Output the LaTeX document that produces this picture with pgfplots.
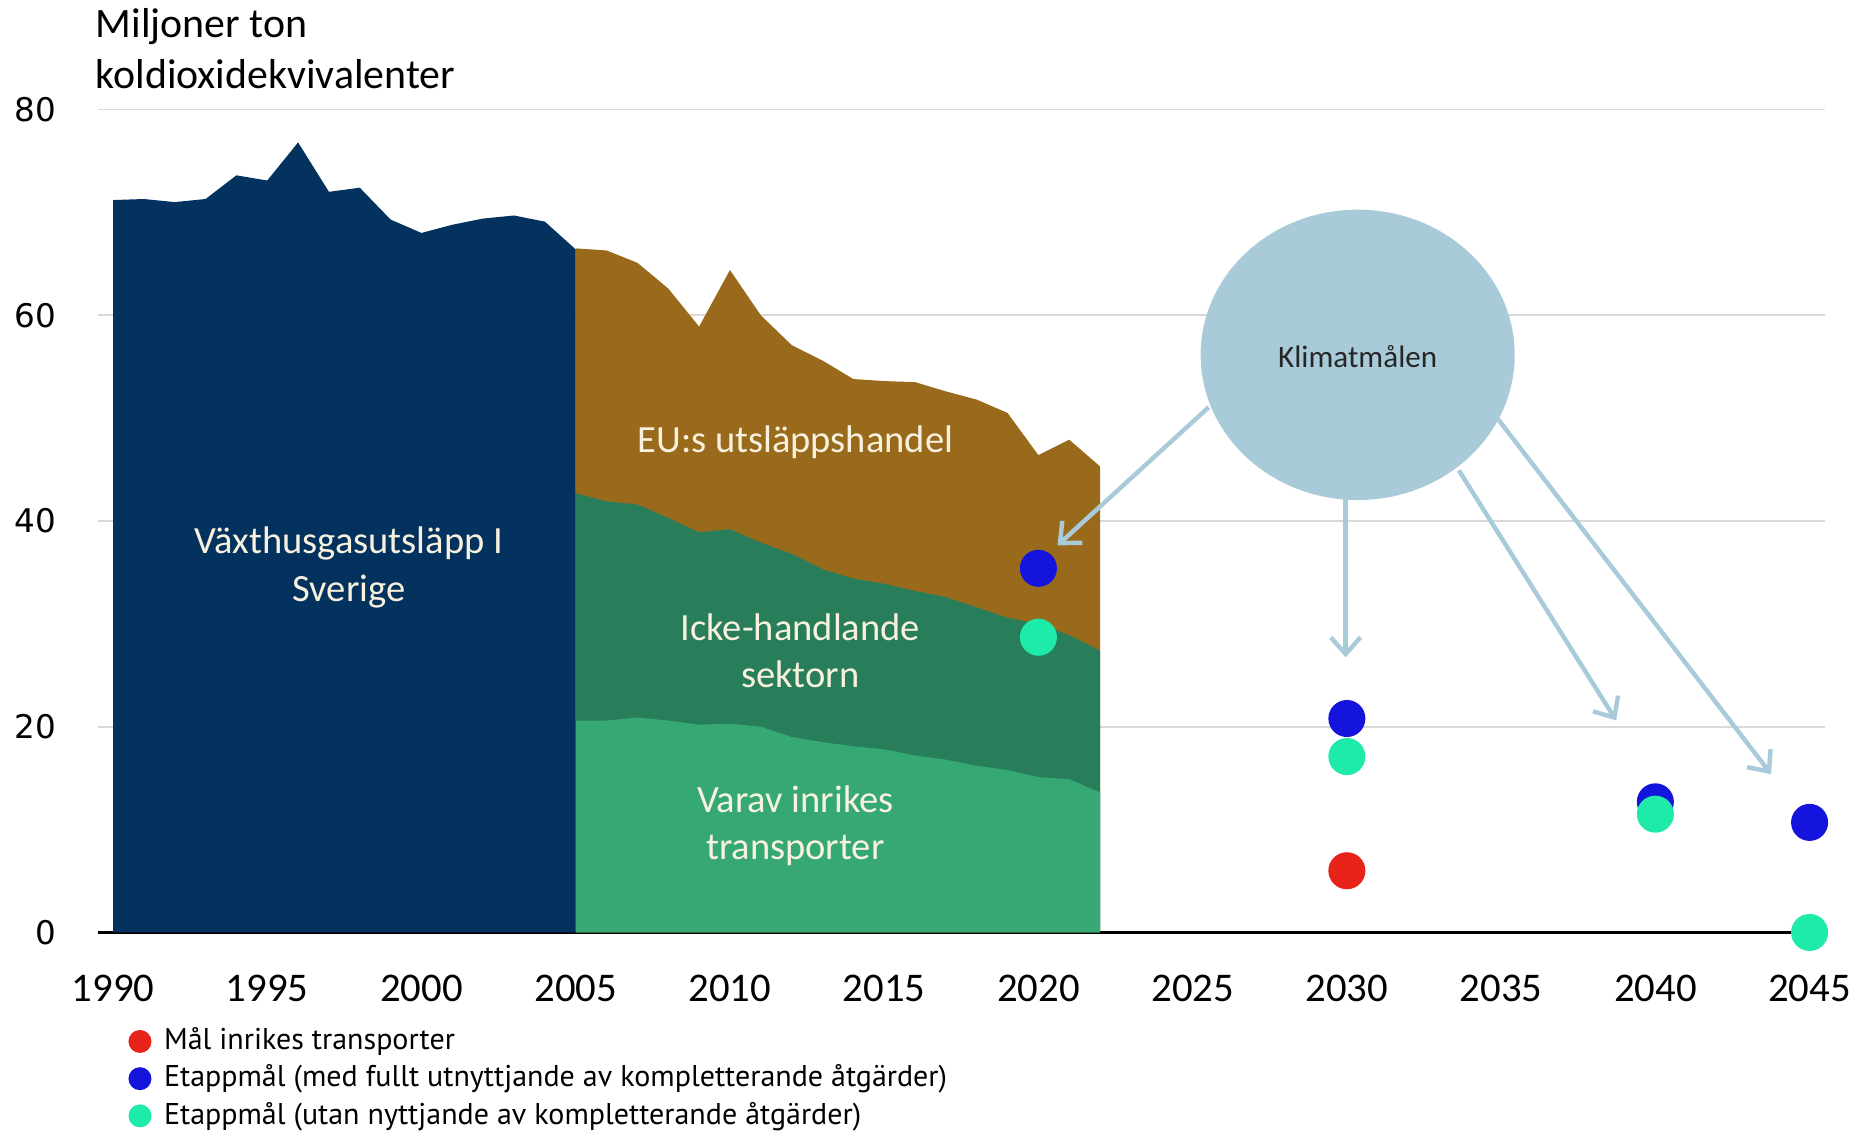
\documentclass[border=0pt]{standalone}
\usepackage{fontspec}
\setmainfont{Carlito}
\newfontfamily\dejavu{DejaVu Sans}
\newfontfamily\ptsans{PT Sans}
\usepackage{pgfplots}
\pgfplotsset{compat=1.18}
\usetikzlibrary{arrows.meta}

\definecolor{sverige}{HTML}{03325F}
\definecolor{handel}{HTML}{9A6A1C}
\definecolor{ickehandel}{HTML}{287D5A}
\definecolor{transport}{HTML}{36A874}
\definecolor{malred}{HTML}{E8231A}
\definecolor{malblue}{HTML}{1414DC}
\definecolor{malteal}{HTML}{1EEBAA}
\definecolor{klimat}{HTML}{A9CBD9}
\definecolor{labeltext}{HTML}{F8F1DE}

\pgfplotstableread{
year val
1990 71.2
1991 71.3
1992 71.0
1993 71.3
1994 73.6
1995 73.1
1996 76.8
1997 72.0
1998 72.4
1999 69.3
2000 68.0
2001 68.8
2002 69.4
2003 69.7
2004 69.1
2005 66.4
}\sverigedata

% stacked tops, 2005-2022: total, non-trading (incl. transport), transport
\pgfplotstableread{
year total icke transp
2005 66.5 42.7 20.6
2006 66.3 41.9 20.6
2007 65.1 41.6 20.9
2008 62.6 40.3 20.6
2009 58.9 38.9 20.2
2010 64.4 39.2 20.3
2011 60.0 37.9 20.0
2012 57.1 36.8 19.0
2013 55.6 35.3 18.5
2014 53.8 34.4 18.1
2015 53.6 33.9 17.8
2016 53.5 33.2 17.2
2017 52.6 32.6 16.8
2018 51.8 31.6 16.2
2019 50.5 30.6 15.8
2020 46.4 30.0 15.1
2021 47.9 28.9 14.9
2022 45.3 27.4 13.6
}\sektordata

\begin{document}
\begin{tikzpicture}
\begin{axis}[
    scale only axis,
    width=466.4pt, height=222.2pt,
    xmin=1989.5, xmax=2045.5,
    ymin=0, ymax=80,
    clip=false,
    separate axis lines,
    axis x line*=bottom,
    axis y line*=left,
    y axis line style={draw=none},
    x axis line style={black, line width=0.6pt},
    ytick={0,20,40,60,80},
    ytick style={draw=none},
    ymajorgrids,
    grid style={color=black!15, line width=0.5pt},
    xtick={1990,1995,...,2045},
    xticklabels={1990,1995,2000,2005,2010,2015,2020,2025,2030,2035,2040,2045},
    xtick style={draw=none},
    extra x ticks={1989.5,1994.5,...,2044.5},
    extra x tick labels={},
    extra x tick style={tick align=outside, major tick length=4.8pt,
        tick style={black, line width=0.6pt}, grid=none},
    xticklabel style={font=\fontsize{11}{11}\selectfont, inner sep=0pt, yshift=-11.3pt},
    yticklabel style={font=\dejavu\fontsize{8.8}{9}\selectfont, inner sep=0pt, xshift=-11pt},
    /pgf/number format/assume math mode=true,
    legend image code/.code={
        \path[draw=none, fill=none] (0pt,-2pt) rectangle (7pt,2pt);
        \draw[#1, mark size=2.9pt] plot coordinates {(3.5pt,0pt)};
    },
    legend cell align=left,
    legend style={draw=none, fill=none, inner sep=0pt,
        at={(axis description cs:0.0166,-0.1103)}, anchor=north west,
        font=\ptsans\fontsize{8.1}{9.5}\selectfont,
        row sep=0.6pt,
        nodes={inner sep=1pt},
        /tikz/every odd column/.append style={column sep=2pt}},
]
% areas
\addplot[fill=handel, draw=none, forget plot] table[x=year, y=total] {\sektordata} \closedcycle;
\addplot[fill=ickehandel, draw=none, forget plot] table[x=year, y=icke] {\sektordata} \closedcycle;
\addplot[fill=transport, draw=none, forget plot] table[x=year, y=transp] {\sektordata} \closedcycle;
\addplot[fill=sverige, draw=none, forget plot] table[x=year, y=val] {\sverigedata} \closedcycle;

% area labels
\node[text=labeltext, align=center, font=\fontsize{10.4}{12.8}\selectfont]
    at (axis cs:1997.65,35.5) {Växthusgasutsläpp I\\Sverige};
\node[text=labeltext, font=\fontsize{10.4}{12.8}\selectfont]
    at (axis cs:2012.12,47.7) {EU:s utsläppshandel};
\node[text=labeltext, align=center, font=\fontsize{10.4}{12.8}\selectfont]
    at (axis cs:2012.28,27.4) {Icke-handlande\\sektorn};
\node[text=labeltext, align=center, font=\fontsize{10.4}{12.8}\selectfont]
    at (axis cs:2012.12,10.4) {Varav inrikes\\transporter};

% arrows and the goal bubble
\draw[klimat, line width=1.2pt, -{Straight Barb[length=4.5pt, width=8pt]}]
    (axis cs:2025.52,51.06) -- (axis cs:2020.62,37.63);
\draw[klimat, line width=1.2pt, -{Straight Barb[length=4.5pt, width=8pt]}]
    (axis cs:2029.96,42.5) -- (axis cs:2029.96,26.74);
\draw[klimat, line width=1.2pt, -{Straight Barb[length=4.5pt, width=8pt]}]
    (axis cs:2033.63,44.92) -- (axis cs:2038.73,20.61);
\draw[klimat, line width=1.2pt, -{Straight Barb[length=4.5pt, width=8pt]}]
    (axis cs:2034.90,49.90) -- (axis cs:2043.75,15.40);
\fill[klimat] (axis cs:2030.35,56.15) ellipse [x radius=42.4pt, y radius=39.2pt];
\node[text=black!85, font=\fontsize{8.4}{10}\selectfont] at (axis cs:2030.35,56.0) {Klimatmålen};

% goals
\addplot[only marks, mark=*, mark size=4.8pt, color=malred, mark options={draw=none, fill=malred}]
    coordinates {(2030,6.0)};
\addlegendentry{Mål inrikes transporter}
\addplot[only marks, mark=*, mark size=4.8pt, color=malblue, mark options={draw=none, fill=malblue}]
    coordinates {(2020,35.4) (2030,20.8) (2040,12.7) (2045,10.7)};
\addlegendentry{Etappmål (med fullt utnyttjande av kompletterande åtgärder)}
\addplot[only marks, mark=*, mark size=4.8pt, color=malteal, mark options={draw=none, fill=malteal}]
    coordinates {(2020,28.7) (2030,17.1) (2040,11.5) (2045,0)};
\addlegendentry{Etappmål (utan nyttjande av kompletterande åtgärder)}
\end{axis}

\node[anchor=north west, inner sep=0pt, align=left, font=\fontsize{11.3}{13.8}\selectfont]
    at (-0.7pt,249.6pt) {Miljoner ton\\koldioxidekvivalenter};
\path (-26.35pt,-55pt) rectangle (477.74pt,251.77pt);
\end{tikzpicture}
\end{document}
